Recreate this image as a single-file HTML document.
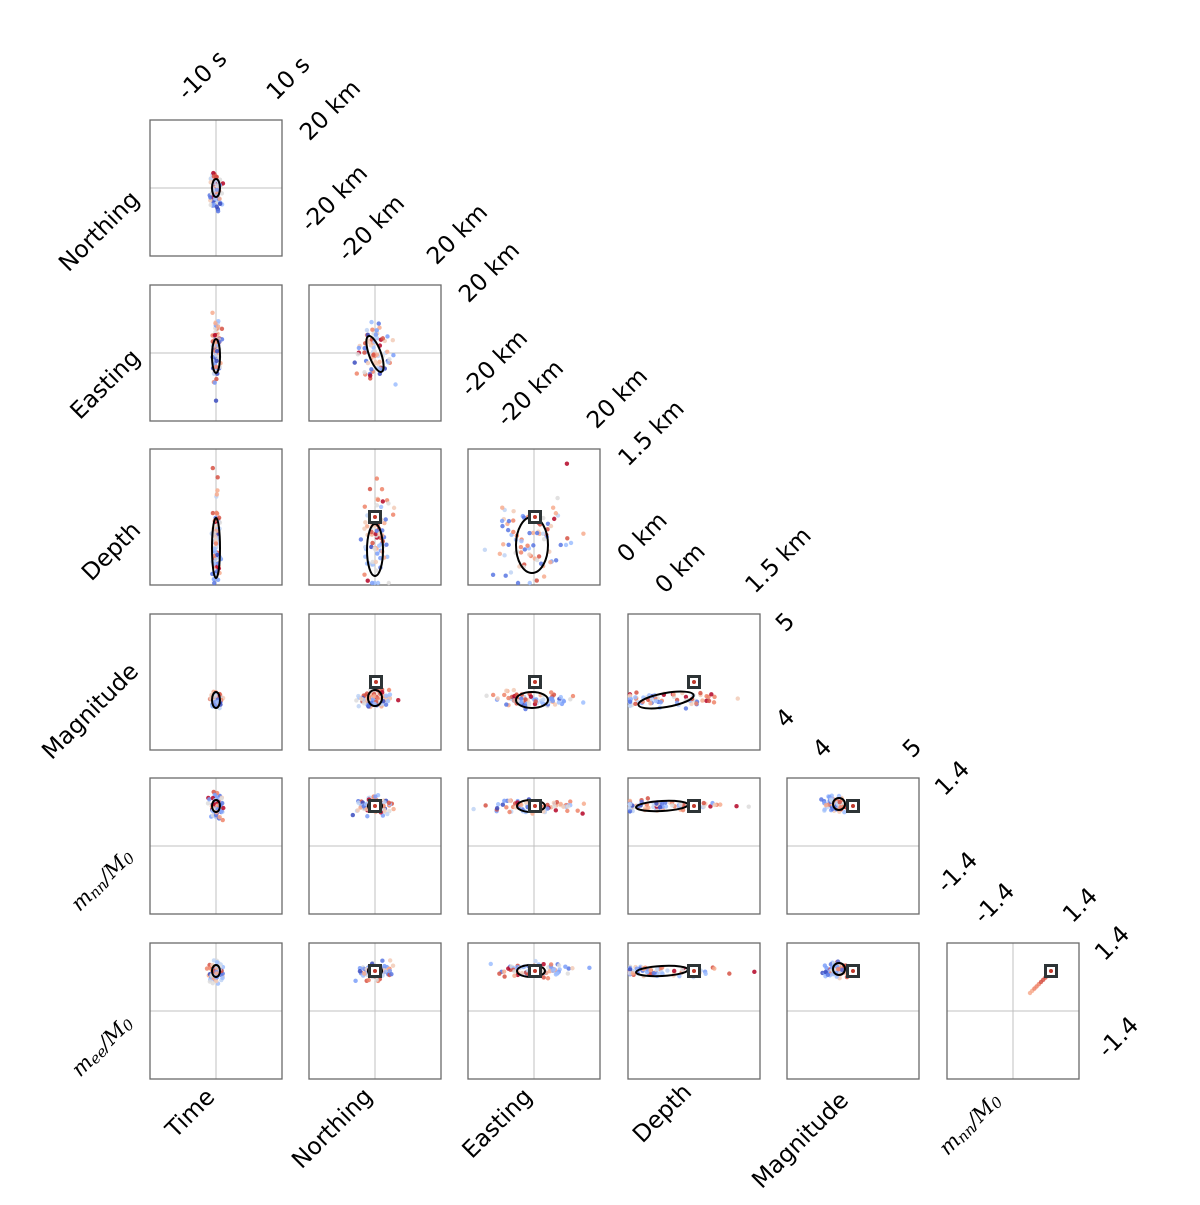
<!DOCTYPE html>
<html><head><meta charset="utf-8"><style>
html,body{margin:0;padding:0;background:#fff}
svg text{font-family:"DejaVu Sans","Liberation Sans",sans-serif;font-size:23.5px;fill:#000}
.m{font-family:"DejaVu Serif","Liberation Serif",serif;font-style:italic;font-size:21px}
</style></head><body>
<svg id="s" width="1200" height="1200" xmlns="http://www.w3.org/2000/svg">
<g id="grid"></g>
<g id="dots"></g>
<g fill="none" stroke="#000" stroke-width="2">
<ellipse cx="216" cy="188" rx="4" ry="9"/>
<ellipse cx="216" cy="356" rx="4" ry="17"/>
<ellipse cx="375" cy="354" rx="6" ry="19" transform="rotate(-20 375 354)"/>
<ellipse cx="216" cy="548" rx="4" ry="30"/>
<ellipse cx="375" cy="550" rx="8" ry="26"/>
<ellipse cx="532" cy="545" rx="16" ry="28"/>
<ellipse cx="216" cy="700" rx="4" ry="8"/>
<ellipse cx="375" cy="698" rx="7" ry="8"/>
<ellipse cx="532" cy="700" rx="16" ry="8"/>
<ellipse cx="666" cy="700" rx="28" ry="7" transform="rotate(-10 666 700)"/>
<ellipse cx="216" cy="806" rx="4" ry="6"/>
<ellipse cx="375" cy="806" rx="7" ry="5"/>
<ellipse cx="531" cy="806" rx="14" ry="6"/>
<ellipse cx="662" cy="806" rx="26" ry="5" transform="rotate(-3 662 806)"/>
<ellipse cx="839" cy="804" rx="6" ry="6"/>
<ellipse cx="216" cy="971" rx="4" ry="6"/>
<ellipse cx="375" cy="971" rx="7" ry="5"/>
<ellipse cx="531" cy="971" rx="14" ry="6"/>
<ellipse cx="662" cy="971" rx="26" ry="5" transform="rotate(-3 662 971)"/>
<ellipse cx="839" cy="969" rx="6" ry="6"/>
</g>
<g id="sq"></g>
<g text-anchor="middle" dominant-baseline="central">
<text x="202" y="75" transform="rotate(-45 202 75)">-10 s</text>
<text x="288" y="78" transform="rotate(-45 288 78)">10 s</text>
<text x="330" y="110" transform="rotate(-45 330 110)">20 km</text>
<text x="334" y="198" transform="rotate(-45 334 198)">-20 km</text>
<text x="371" y="228" transform="rotate(-45 371 228)">-20 km</text>
<text x="457" y="234" transform="rotate(-45 457 234)">20 km</text>
<text x="489" y="272" transform="rotate(-45 489 272)">20 km</text>
<text x="494" y="363" transform="rotate(-45 494 363)">-20 km</text>
<text x="530" y="393" transform="rotate(-45 530 393)">-20 km</text>
<text x="617" y="398" transform="rotate(-45 617 398)">20 km</text>
<text x="651" y="433" transform="rotate(-45 651 433)">1.5 km</text>
<text x="642" y="537" transform="rotate(-45 642 537)">0 km</text>
<text x="680" y="568" transform="rotate(-45 680 568)">0 km</text>
<text x="778" y="560" transform="rotate(-45 778 560)">1.5 km</text>
<text x="785" y="622" transform="rotate(-45 785 622)">5</text>
<text x="785" y="718" transform="rotate(-45 785 718)">4</text>
<text x="822" y="748" transform="rotate(-45 822 748)">4</text>
<text x="912" y="748" transform="rotate(-45 912 748)">5</text>
<text x="952" y="778" transform="rotate(-45 952 778)">1.4</text>
<text x="957" y="872" transform="rotate(-45 957 872)">-1.4</text>
<text x="994" y="903" transform="rotate(-45 994 903)">-1.4</text>
<text x="1080" y="905" transform="rotate(-45 1080 905)">1.4</text>
<text x="1112" y="943" transform="rotate(-45 1112 943)">1.4</text>
<text x="1118" y="1037" transform="rotate(-45 1118 1037)">-1.4</text>
<text x="99" y="231" transform="rotate(-45 99 231)">Northing</text>
<text x="105" y="384" transform="rotate(-45 105 384)">Easting</text>
<text x="111" y="551" transform="rotate(-45 111 551)">Depth</text>
<text x="90" y="711" transform="rotate(-45 90 711)">Magnitude</text>
<text class="m" x="102" y="880" transform="rotate(-45 102 880)">m<tspan font-size="15" dy="4">nn</tspan><tspan dy="-4">/M</tspan><tspan font-size="15" dy="4">0</tspan></text>
<text class="m" x="102" y="1046" transform="rotate(-45 102 1046)">m<tspan font-size="15" dy="4">ee</tspan><tspan dy="-4">/M</tspan><tspan font-size="15" dy="4">0</tspan></text>
<text x="190" y="1113" transform="rotate(-45 190 1113)">Time</text>
<text x="332" y="1128" transform="rotate(-45 332 1128)">Northing</text>
<text x="497" y="1123" transform="rotate(-45 497 1123)">Easting</text>
<text x="662" y="1113" transform="rotate(-45 662 1113)">Depth</text>
<text x="800" y="1140" transform="rotate(-45 800 1140)">Magnitude</text>
<text class="m" x="970" y="1124" transform="rotate(-45 970 1124)">m<tspan font-size="15" dy="4">nn</tspan><tspan dy="-4">/M</tspan><tspan font-size="15" dy="4">0</tspan></text>
</g>
</svg>
<script>
(function(){
var NS="http://www.w3.org/2000/svg";
var X=[150,309,468,628,787,947],Y=[120,285,449,614,778,943],W=132,H=136;
var g=document.getElementById('grid'),d=document.getElementById('dots'),q=document.getElementById('sq');
function el(p,t,a){var e=document.createElementNS(NS,t);for(var k in a)e.setAttribute(k,a[k]);p.appendChild(e);return e;}
var noV={3:1,4:1},noH={2:1,3:1};
for(var r=0;r<6;r++)for(var c=0;c<=r;c++){
 var x=X[c],y=Y[r];
 if(!noV[c])el(g,'line',{x1:x+W/2,y1:y,x2:x+W/2,y2:y+H,stroke:'#c0c0c0','stroke-width':1});
 if(!noH[r])el(g,'line',{x1:x,y1:y+H/2,x2:x+W,y2:y+H/2,stroke:'#c0c0c0','stroke-width':1});
 el(g,'rect',{x:x,y:y,width:W,height:H,fill:'none',stroke:'#6a6a6a','stroke-width':1.3});
}
var s=12345;function rnd(){s=(s*16807)%2147483647;return s/2147483647;}
function gau(){return (rnd()+rnd()+rnd()+rnd()-2)*1.2;}
var cols=['#3b4cc0','#5977e3','#7b9ff9','#9ebeff','#c0d4f5','#dddcdc','#f2cbb7','#f7ac8e','#ee8468','#d65244','#b40426'];
function dot(cx,cy,v){var i=Math.max(0,Math.min(10,Math.round(v*10)));el(d,'circle',{cx:cx,cy:cy,r:2.2,fill:cols[i],opacity:0.85});}
var P={
'0,0':[216,192,4,12,-1],'1,0':[216,352,3,24,-1],'1,1':[375,352,12,22,0],
'2,0':[216,540,3,32,-1],'2,1':[375,540,10,32,-1],'2,2':[532,540,28,35,-1],
'3,0':[216,700,4,5,-1],'3,1':[375,700,12,5,-1],'3,2':[532,700,30,5,-1],'3,3':[660,700,45,5,-1],
'4,0':[216,806,5,8,0],'4,1':[375,806,12,6,0],'4,2':[532,806,30,5,0],'4,3':[660,806,45,4,0],'4,4':[836,804,6,5,0],
'5,0':[216,971,5,8,0],'5,1':[375,971,12,6,0],'5,2':[532,971,30,5,0],'5,3':[660,971,45,4,0],'5,4':[836,969,6,5,0]};
for(var k in P){var p=P[k];var rc=k.split(',');var x0=X[+rc[1]],y0=Y[+rc[0]];
 for(var i=0;i<80;i++){var v=rnd();var px=p[0]+gau()*p[2];var py=p[1]+gau()*p[3];
  if(p[4]<0)py-= (v-0.5)*p[3]*1.2;
  if(+rc[0]>=3&&+rc[1]==3)px+=(v-0.5)*40;
  if(+rc[0]>=4&&+rc[1]==4)px+=(v-0.5)*10;
  px=Math.max(x0+2,Math.min(x0+W-2,px));py=Math.max(y0+2,Math.min(y0+H-2,py));dot(px,py,v);}
}
for(var i=0;i<10;i++){var t=i/10;dot(1030+t*22,993-t*22,0.7+t*0.3);}
var S=[[375,517],[535,517],[376,682],[535,682],[694,682],[375,806],[535,806],[694,806],[853,806],[375,971],[535,971],[694,971],[853,971],[1051,971]];
S.forEach(function(a){el(q,'rect',{x:a[0]-5.5,y:a[1]-5.5,width:11,height:11,fill:'#fff',stroke:'#2d3436','stroke-width':3});el(q,'circle',{cx:a[0],cy:a[1],r:2,fill:'#c0392b'});});
})();
</script>
</body></html>
